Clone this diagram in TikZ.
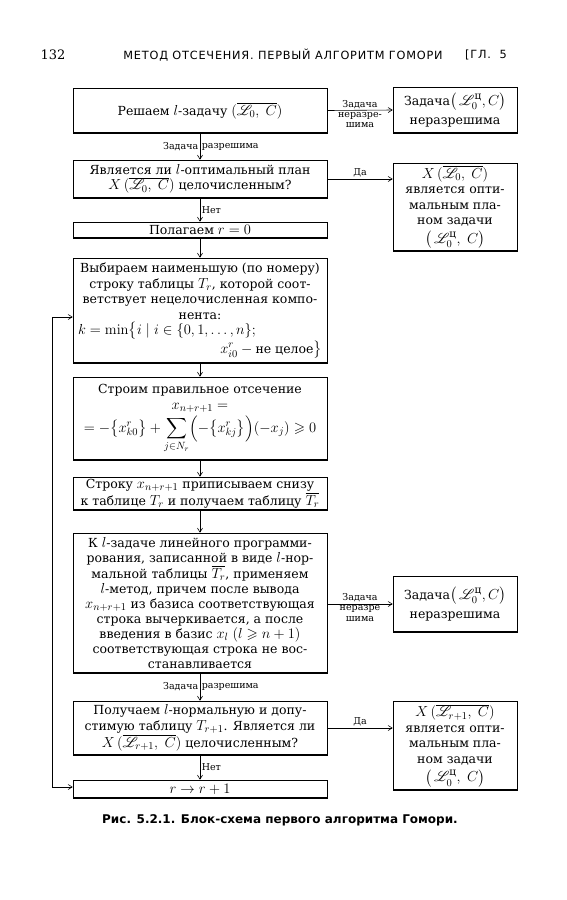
\RequirePackage{fix-cm}
\documentclass[tikz,border=0pt]{standalone}
\usepackage{amsmath,amssymb}
\usepackage{mathrsfs}
\usepackage[no-math]{fontspec}
\setmainfont{DejaVu Serif}
\newfontfamily\rubfont{DejaVu Sans}
\newfontfamily\shapkafont[LetterSpace=7]{DejaVu Sans}
\DeclareMathSizes{12.5}{14.5}{10.5}{8}
\usepackage{tikz}
\usetikzlibrary{arrows.meta,positioning,calc}

\begin{document}
\begin{tikzpicture}[x=1pt,y=-1pt,
  blok/.style={draw,line width=0.6pt,inner xsep=5pt,inner ysep=1pt,
    text width=244pt,align=flush center,font=\fontsize{12.5}{15.5}\selectfont,
    path picture={
      \draw[line width=2pt] (path picture bounding box.north west) -- (path picture bounding box.north east);
      \draw[line width=2pt] (path picture bounding box.south west) -- (path picture bounding box.south east);}},
  otvet/.style={blok,text width=114pt},
  strel/.style={line width=0.6pt,-{Straight Barb[length=4pt,width=5pt]}},
  metka/.style={font=\fontsize{9.5}{10.5}\selectfont,inner sep=1.5pt}
]
\useasboundingbox (0,0) rectangle (567,900);
%--- page header ---
\node[font=\fontsize{13}{16}\selectfont] (nomer) at (53,55) {132};
\node[font=\shapkafont\fontsize{11.3}{14}\selectfont] (shapka) at (283,55)
  {МЕТОД ОТСЕЧЕНИЯ. ПЕРВЫЙ АЛГОРИТМ ГОМОРИ};
\node[font=\shapkafont\fontsize{11.3}{14}\selectfont] (glava) at (486,55) {[ГЛ.\ \ 5};
%--- main column ---
\node[blok,minimum height=45pt] (reshaem) at (200,110.5)
  {Решаем $l$-задачу $(\overline{\mathscr{L}_0,\ C})$};
\node[blok,minimum height=38pt] (celoe) at (200,179)
  {Является ли $l$-оптимальный план\\ $X\,(\overline{\mathscr{L}_0,\ C})$ целочисленным?};
\node[blok,minimum height=16pt] (nol) at (200,230)
  {Полагаем $r=0$};
\node[blok,minimum height=105pt] (vybor) at (200,310.5)
  {Выбираем наименьшую (по номеру)\\
   строку таблицы $T_r$, которой соот-\\
   ветствует нецелочисленная компо-\\
   нента:\\
   $k=\min\bigl\{i\mid i\in\{0,1,\ldots,n\};$\hfill\mbox{}\\
   \mbox{}\hfill$x_{i0}^{r}-{}$не целое$\bigr\}$};
\node[blok,minimum height=83pt] (otsech) at (200,418.5)
  {Строим правильное отсечение\\[1pt]
   $x_{n+r+1}=$\\[2pt]
   $\displaystyle=-\bigl\{x_{k0}^{r}\bigr\}+\sum_{j\in N_r}\Bigl(-\bigl\{x_{kj}^{r}\bigr\}\Bigr)(-x_j)\geqslant 0$};
\node[blok,minimum height=33pt] (stroka) at (200,493.5)
  {Строку $x_{n+r+1}$ приписываем снизу\\ к таблице $T_r$ и получаем таблицу $\overline{T_r}$};
\node[blok,minimum height=140pt,font=\fontsize{12.5}{15}\selectfont] (lmetod) at (200,603)
  {К $l$-задаче линейного программи-\\
   рования, записанной в виде $l$-нор-\\
   мальной таблицы $\overline{T_r}$, применяем\\
   $l$-метод, причем после вывода\\
   $x_{n+r+1}$ из базиса соответствующая\\
   строка вычеркивается, а после\\
   введения в базис $x_l$ $(l\geqslant n+1)$\\
   соответствующая строка не вос-\\
   станавливается};
\node[blok,minimum height=54pt] (poluch) at (200,728)
  {Получаем $l$-нормальную и допу-\\
   стимую таблицу $T_{r+1}$. Является ли\\
   $X\,(\overline{\mathscr{L}_{r+1},\ C})$ целочисленным?};
\node[blok,minimum height=18pt] (shag) at (200,789) {$r\to r+1$};
%--- answers on the right ---
\node[otvet,minimum height=46pt] (nerazr1) at (455,110)
  {Задача$\bigl(\,\mathscr{L}_0^{\text{ц}},C\bigr)$\\[3pt] неразрешима};
\node[otvet,minimum height=88pt] (optim1) at (455,207)
  {$X\,(\overline{\mathscr{L}_0,\ C})$\\ является опти-\\ мальным пла-\\ ном задачи\\[3pt] $\bigl(\,\mathscr{L}_0^{\text{ц}},\ C\bigr)$};
\node[otvet,minimum height=56pt] (nerazr2) at (455,604)
  {Задача$\bigl(\,\mathscr{L}_0^{\text{ц}},C\bigr)$\\[3pt] неразрешима};
\node[otvet,minimum height=89pt] (optim2) at (455,745.5)
  {$X\,(\overline{\mathscr{L}_{r+1},\ C})$\\ является опти-\\ мальным пла-\\ ном задачи\\[3pt] $\bigl(\,\mathscr{L}_0^{\text{ц}},\ C\bigr)$};
%--- connectors ---
\draw[strel] (reshaem) -- node[metka,left]{Задача} node[metka,right]{разрешима} (celoe);
\draw[strel] (celoe) -- node[metka,right]{Нет} (nol);
\draw[strel] (nol) -- (vybor);
\draw[strel] (vybor) -- (otsech);
\draw[strel] (otsech) -- (stroka);
\draw[strel] (stroka) -- (lmetod);
\draw[strel] (lmetod) -- node[metka,left]{Задача} node[metka,right]{разрешима} (poluch);
\draw[strel] (poluch) -- node[metka,right]{Нет} (shag);
\draw[strel] (reshaem.east) -- node[metka,above]{Задача}
  node[metka,below,align=center]{неразре-\\шима} (nerazr1.west);
\draw[strel] (celoe.east) -- node[metka,above]{Да} (celoe.east -| optim1.west);
\draw[strel] (lmetod.east |- nerazr2.west) -- node[metka,above]{Задача}
  node[metka,below,align=center]{неразре\\шима} (nerazr2.west);
\draw[strel] (poluch.east) -- node[metka,above]{Да} (poluch.east -| optim2.west);
% back loop
\coordinate (petlya1) at (52,317);
\coordinate (petlya2) at (52,787);
\draw[strel] (petlya1) -- (petlya1 -| vybor.west);
\draw[strel] (petlya1) -- (petlya2) -- (petlya2 -| shag.west);
%--- caption ---
\node[font=\rubfont\bfseries\fontsize{12}{14}\selectfont] (podpis) at (280,820)
  {Рис. 5.2.1. Блок-схема первого алгоритма Гомори.};
\end{tikzpicture}
\end{document}
